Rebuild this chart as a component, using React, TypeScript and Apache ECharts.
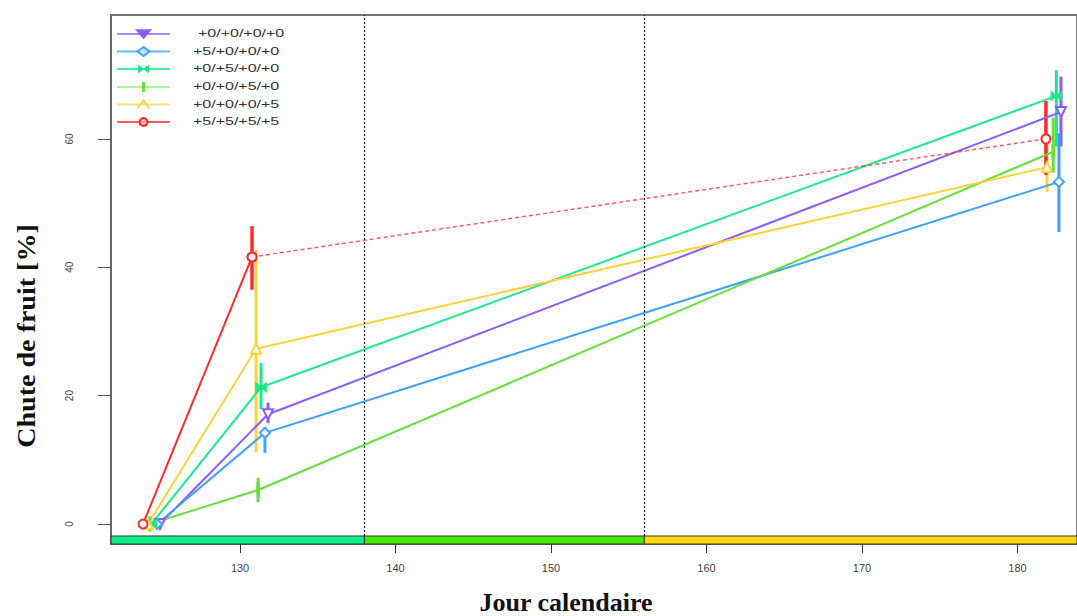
import React, { useEffect, useRef } from "react";
import * as echarts from "echarts";

const groupNames = ["+0/+0/+0/+0", "+5/+0/+0/+0", "+0/+5/+0/+0", "+0/+0/+5/+0", "+0/+0/+0/+5", "+5/+5/+5/+5"];
const groupColors = ["#8a5cff", "#3fa0ff", "#1de88a", "#66e03a", "#ffd23a", "#ff2a2a"];
const legendLineColors = ["#a88cff", "#6ab8ff", "#3ff0a0", "#a6f59a", "#ffe07a", "#ff5a5a"];

// x positions (calendar day, slightly jittered per group as in the original)
const daysPurple = [124.85, 131.8, 182.8];
const daysBlue = [124.66, 131.6, 182.67];
const daysCyan = [124.3, 131.35, 182.5];
const daysLime = [124.2, 131.16, 182.3];
const daysYellow = [124.08, 131.03, 181.9];
const daysRed = [123.76, 130.77, 181.83];

const valsPurple = [0, 17.1, 64.2];
const valsBlue = [0, 14.2, 53.3];
const valsCyan = [0, 21.3, 66.7];
const valsLime = [0, 5.3, 58.0];
const valsYellow = [0, 27.3, 55.6];
const valsRed = [0, 41.6, 60.0];

// error bars at 2nd and 3rd dates
const loPurple = [15.7, 58.8];
const hiPurple = [18.9, 69.7];
const loBlue = [11.1, 45.5];
const hiBlue = [15.1, 60.9];
const loCyan = [17.9, 58.8];
const hiCyan = [25.1, 70.7];
const loLime = [3.4, 54.7];
const hiLime = [7.2, 63.3];
const loYellow = [11.2, 51.7];
const hiYellow = [42.7, 59.1];
const loRed = [36.5, 54.4];
const hiRed = [46.4, 65.9];

const phaseBreaks = [121.7, 138, 156, 183.83];
const phaseColors = ["#00f08a", "#44ee00", "#ffd800"];
const xTicks = [130, 140, 150, 160, 170, 180];
const yTicks = [0, 20, 40, 60];

const days = [daysPurple, daysBlue, daysCyan, daysLime, daysYellow, daysRed];
const vals = [valsPurple, valsBlue, valsCyan, valsLime, valsYellow, valsRed];
const los = [loPurple, loBlue, loCyan, loLime, loYellow, loRed];
const his = [hiPurple, hiBlue, hiCyan, hiLime, hiYellow, hiRed];
const symbols = [
  "emptyTriangle",
  "emptyDiamond",
  "path://M0,0 L10,10 L10,0 L0,10 Z",
  "rect",
  "emptyTriangle",
  "emptyCircle",
];
const symbolSizes: any[] = [10, 10, [10, 8], [2.5, 12], 10, 9];
const symbolRotates = [180, 0, 0, 0, 0, 0];

const Y_MIN = -3.12;
const Y_MAX = 79.3;
const BAND_TOP = -1.87;

function legendMarker(i: number, color: string): any {
  switch (i) {
    case 0:
      return { type: "polygon", shape: { points: [[-7, -4], [7, -4], [0, 4]] }, style: { fill: color, stroke: color, lineWidth: 1.5 } };
    case 1:
      return { type: "polygon", shape: { points: [[-6, 0], [0, -4.5], [6, 0], [0, 4.5]] }, style: { fill: "#bfe0ff", stroke: color, lineWidth: 2 } };
    case 2:
      return { type: "polygon", shape: { points: [[-5, -3.5], [5, 3.5], [5, -3.5], [-5, 3.5]] }, style: { fill: color, stroke: color, lineWidth: 1 } };
    case 3:
      return { type: "rect", shape: { x: -1.5, y: -5, width: 3, height: 10 }, style: { fill: color } };
    case 4:
      return { type: "polyline", shape: { points: [[-6, 4], [0, -4], [6, 4]] }, style: { fill: "none", stroke: color, lineWidth: 2 } };
    default:
      return { type: "circle", shape: { cx: 0, cy: 0, r: 4 }, style: { fill: "#ffb0b0", stroke: color, lineWidth: 2 } };
  }
}

export default function App() {
  const ref = useRef<HTMLDivElement>(null);
  useEffect(() => {
    const chart = echarts.init(ref.current!, null, { renderer: "svg" });
    const series: any[] = [];
    groupNames.forEach((name, i) => {
      const pts = days[i].map((d, k) => [d, vals[i][k]]);
      const isRed = i === 5;
      series.push({
        name,
        type: "line",
        data: isRed ? pts.slice(0, 2) : pts,
        symbol: symbols[i],
        symbolSize: symbolSizes[i],
        symbolRotate: symbolRotates[i],
        showAllSymbol: true,
        lineStyle: { color: groupColors[i], width: 2 },
        itemStyle: { color: groupColors[i], borderColor: groupColors[i], borderWidth: 1.5 },
        z: 3,
      });
      if (isRed) {
        series.push({
          name: name + " ",
          type: "line",
          data: pts.slice(1),
          symbol: symbols[i],
          symbolSize: symbolSizes[i],
          lineStyle: { color: groupColors[i], width: 1.5, type: [4, 3], opacity: 0.75 },
          itemStyle: { color: groupColors[i], borderColor: groupColors[i], borderWidth: 1.5 },
          z: 3,
        });
      }
      const errData = los[i].map((lo, k) => [days[i][k + 1], lo, his[i][k]]);
      series.push({
        name: name + " err",
        type: "custom",
        data: errData,
        z: 2,
        renderItem: (params: any, api: any) => {
          const p1 = api.coord([api.value(0), api.value(1)]);
          const p2 = api.coord([api.value(0), api.value(2)]);
          return {
            type: "line",
            shape: { x1: p1[0], y1: p1[1], x2: p2[0], y2: p2[1] },
            style: { stroke: groupColors[i], lineWidth: i === 5 ? 3.5 : 3 },
          };
        },
      });
    });
    // phase band
    const bandData = phaseColors.map((c, k) => [phaseBreaks[k], phaseBreaks[k + 1], k]);
    series.push({
      name: "phases",
      type: "custom",
      data: bandData,
      z: 1,
      renderItem: (params: any, api: any) => {
        const a = api.coord([api.value(0), BAND_TOP]);
        const b = api.coord([api.value(1), Y_MIN]);
        return {
          type: "rect",
          shape: { x: a[0], y: a[1], width: b[0] - a[0], height: b[1] - a[1] },
          style: { fill: phaseColors[api.value(2)], stroke: "#333", lineWidth: 1 },
        };
      },
      markLine: {
        silent: true,
        symbol: "none",
        label: { show: false },
        lineStyle: { type: [2, 2], color: "#222", width: 1.2 },
        data: [
          [{ coord: [phaseBreaks[1], BAND_TOP] }, { coord: [phaseBreaks[1], Y_MAX] }],
          [{ coord: [phaseBreaks[2], BAND_TOP] }, { coord: [phaseBreaks[2], Y_MAX] }],
        ],
      },
    });

    const legendRowsY = [34, 51.5, 69, 87, 104.5, 122];
    const legendGraphics = groupNames.map((name, i) => ({
      type: "group",
      x: 117,
      y: legendRowsY[i],
      children: [
        { type: "line", shape: { x1: 0, y1: 0, x2: 53, y2: 0 }, style: { stroke: legendLineColors[i], lineWidth: 2 } },
        { type: "group", x: 26.5, y: 0, children: [legendMarker(i, groupColors[i])] },
        {
          type: "text",
          x: i === 0 ? 81 : 76,
          y: 0,
          scaleX: 1.6,
          style: {
            text: name,
            font: "10px 'Liberation Sans'",
            fill: "#333",
            textAlign: "left",
            textVerticalAlign: "middle",
          },
        },
      ],
    }));

    chart.setOption({
      animation: false,
      backgroundColor: "#ffffff",
      grid: {
        left: 111,
        top: 15,
        right: -2,
        bottom: 72,
        show: true,
        borderColor: "#777",
        borderWidth: 2,
      },
      xAxis: {
        type: "value",
        min: phaseBreaks[0],
        max: phaseBreaks[3],
        splitLine: { show: false },
        axisLine: { show: true, onZero: false, lineStyle: { color: "#777" } },
        axisTick: { show: true, customValues: xTicks, length: 9, lineStyle: { color: "#333" } },
        axisLabel: {
          customValues: xTicks,
          margin: 18,
          fontSize: 11,
          color: "#444",
          fontFamily: "Liberation Sans",
        },
      },
      yAxis: {
        type: "value",
        min: Y_MIN,
        max: Y_MAX,
        splitLine: { show: false },
        axisLine: { show: true, lineStyle: { color: "#666", width: 2 } },
        axisTick: { show: true, customValues: yTicks, length: 13, lineStyle: { color: "#555" } },
        axisLabel: {
          customValues: yTicks,
          rotate: 90,
          margin: 37,
          fontSize: 10,
          color: "#444",
          fontFamily: "Liberation Sans",
        },
      },
      graphic: [
        ...legendGraphics,
        {
          type: "text",
          x: 26,
          y: 336,
          rotation: Math.PI / 2,
          scaleX: 1.08,
          style: {
            text: "Chute de fruit [%]",
            font: "bold 26px 'Liberation Serif'",
            fill: "#111",
            textAlign: "center",
            textVerticalAlign: "middle",
          },
        },
        {
          type: "text",
          x: 566,
          y: 602,
          style: {
            text: "Jour calendaire",
            font: "bold 26px 'Liberation Serif'",
            fill: "#111",
            textAlign: "center",
            textVerticalAlign: "middle",
          },
        },
      ],
      series,
    });
    return () => chart.dispose();
  }, []);
  return <div ref={ref} style={{ position: "absolute", left: 0, top: 0, width: 1077, height: 616 }} />;
}
